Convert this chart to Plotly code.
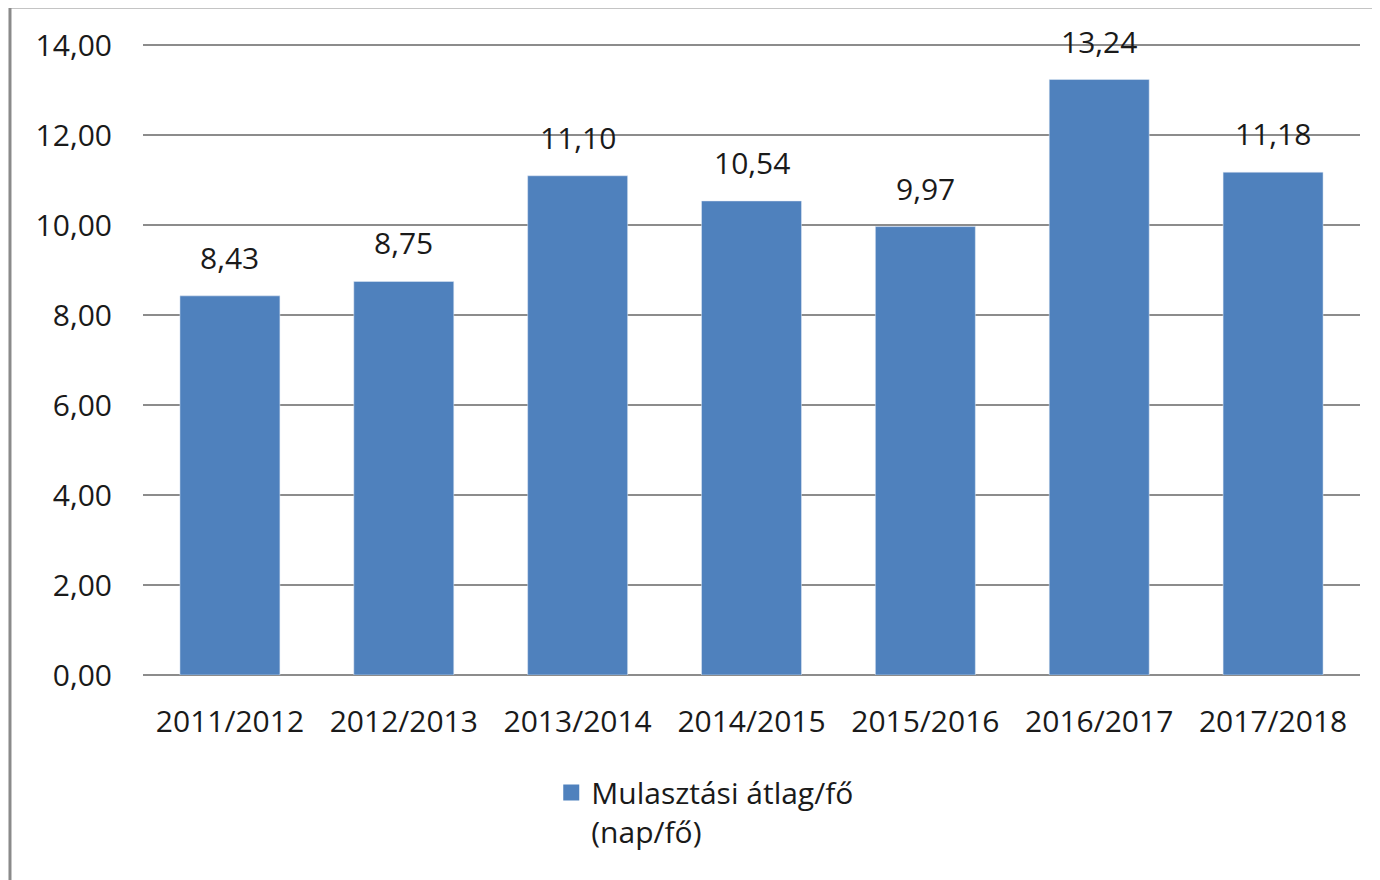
import plotly.graph_objects as go

# school years and average absence (days per student)
years = ["2011/2012", "2012/2013", "2013/2014", "2014/2015",
         "2015/2016", "2016/2017", "2017/2018"]
absence = [8.43, 8.75, 11.10, 10.54, 9.97, 13.24, 11.18]
series_name = "Mulasztási átlag/fő<br>(nap/fő)"

fnt = dict(family="Open Sans, DejaVu Sans, sans-serif", size=30, color="#1a1a1a")
blue = "#4F81BD"

fig = go.Figure()
fig.add_trace(go.Bar(x=years, y=absence, marker=dict(color=blue), showlegend=False))
# legend-only entry so the square marker can be larger
fig.add_trace(go.Scatter(x=[None], y=[None], mode="markers", name=series_name,
                         marker=dict(symbol="square", size=16, color=blue)))

# value labels above the bars
for yr, v in zip(years, absence):
    fig.add_annotation(x=yr, y=v, text=f"{v:.2f}".replace(".", ","),
                       showarrow=False, yanchor="bottom", yshift=16, font=fnt)

fig.update_layout(
    width=1372, height=872,
    margin=dict(l=135, r=20, t=36, b=205),
    paper_bgcolor="white", plot_bgcolor="white",
    separators=", ",
    bargap=0.425,
    font=fnt,
    showlegend=True,
    legend=dict(orientation="v", x=0.462, xanchor="center", y=-0.145, yanchor="top",
                valign="top", font=fnt, itemwidth=30),
    xaxis=dict(showgrid=False, showline=False, ticks="", tickfont=fnt,
               ticklabelstandoff=26),
    yaxis=dict(range=[0, 14.03], dtick=2, tickformat=".2f", showgrid=True,
               gridcolor="#8c8c8c", gridwidth=2, zeroline=True,
               zerolinecolor="#8c8c8c", zerolinewidth=2, showline=False,
               tickfont=fnt, ticklabelstandoff=30),
    # outer chart border (left and top edges visible)
    shapes=[dict(type="rect", xref="paper", yref="paper",
                 x0=-0.1093, x1=1.03, y0=-0.35, y1=1.0586,
                 line=dict(color="#8a8a8a", width=3), layer="below")],
)

fig.write_html("out.html")
